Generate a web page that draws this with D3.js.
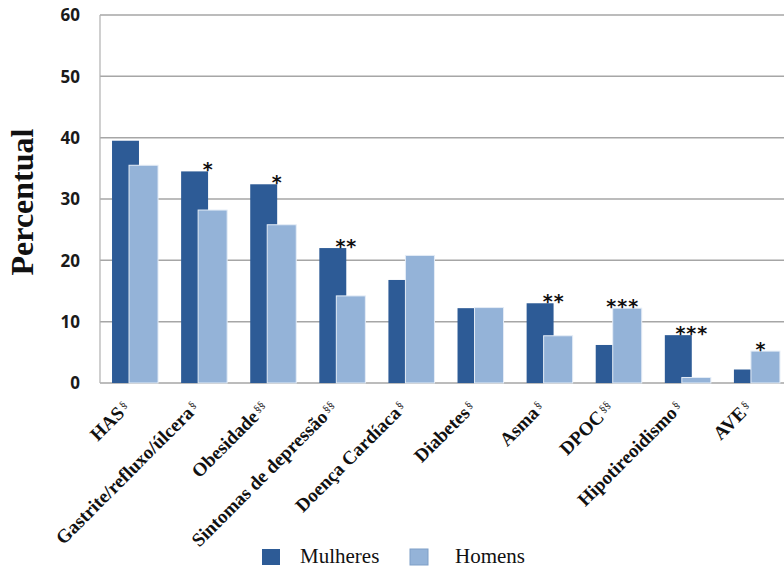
<!DOCTYPE html>
<html>
<head>
<meta charset="utf-8">
<script src="https://cdn.jsdelivr.net/npm/d3@7"></script>
<style>
  html, body { margin: 0; padding: 0; background: #fff; }
  svg { display: block; }
</style>
</head>
<body>
<svg id="chart" width="784" height="567"></svg>
<script>
const categories = ["HAS", "Gastrite/refluxo/úlcera", "Obesidade", "Sintomas de depressão", "Doença Cardíaca", "Diabetes", "Asma", "DPOC", "Hipotireoidismo", "AVE"];
const footMarks = ["§", "§", "§§", "§§", "§", "§", "§", "§§", "§", "§"];
const mulheres = [39.5, 34.5, 32.4, 22.0, 16.8, 12.2, 13.0, 6.2, 7.8, 2.2];
const homens = [35.5, 28.2, 25.8, 14.2, 20.8, 12.3, 7.7, 12.2, 0.9, 5.2];
const significance = ["", "*", "*", "**", "", "", "**", "***", "***", "*"];
const yTicks = [0, 10, 20, 30, 40, 50, 60];
const seriesNames = ["Mulheres", "Homens"];
const colors = ["#2d5b96", "#94b3d8"];

(function () {
const svg = d3.select("#chart");
const pLeft = 100, pRight = 791, pTop = 15, pBottom = 383;

const x = d3.scaleBand().domain(categories).range([pLeft, pRight]).paddingInner(0).paddingOuter(0);
const y = d3.scaleLinear().domain([0, 60]).range([pBottom, pTop]);
const bw = x.bandwidth();

// gridlines
svg.append("g").selectAll("line").data(yTicks).join("line")
  .attr("x1", pLeft).attr("x2", 784)
  .attr("y1", d => y(d)).attr("y2", d => y(d))
  .attr("stroke", "#a6a6a6").attr("stroke-width", 1.5);
svg.append("line").attr("x1", pLeft).attr("x2", pLeft).attr("y1", y(60)).attr("y2", y(0))
  .attr("stroke", "#b0b0b0").attr("stroke-width", 1.2);

// y tick labels
const yAxis = d3.axisLeft(y).tickValues(yTicks).tickSize(0).tickPadding(0);
const gy = svg.append("g").attr("transform", `translate(80,0)`).call(yAxis);
gy.select(".domain").remove();
gy.selectAll("text").attr("font-family", "'Open Sans', 'DejaVu Sans', sans-serif")
  .attr("font-weight", "bold").attr("font-size", 17).attr("fill", "#1a1a1a").attr("dy", "0.35em");

// y label
svg.append("text").attr("transform", "translate(33,202) rotate(-90)")
  .attr("text-anchor", "middle")
  .attr("font-family", "'Liberation Serif', 'DejaVu Serif', serif")
  .attr("font-weight", "bold").attr("font-size", 32).attr("fill", "#111")
  .text("Percentual");

// bars
const groups = svg.append("g").selectAll("g").data(categories).join("g")
  .attr("transform", d => `translate(${x(d)},0)`);
groups.append("rect")
  .attr("x", bw * 0.174).attr("width", bw * 0.39)
  .attr("y", (d, i) => y(mulheres[i])).attr("height", (d, i) => y(0) - y(mulheres[i]))
  .attr("fill", colors[0]);
groups.append("rect")
  .attr("x", bw * 0.42).attr("width", bw * 0.42)
  .attr("y", (d, i) => y(homens[i])).attr("height", (d, i) => y(0) - y(homens[i]))
  .attr("fill", colors[1]).attr("stroke", "#e4ecf6").attr("stroke-width", 1);

// significance stars
groups.append("text")
  .attr("x", bw * 0.565)
  .attr("y", (d, i) => y(Math.max(mulheres[i], homens[i])) + 5)
  .attr("text-anchor", "middle")
  .attr("font-family", "'DejaVu Sans', sans-serif")
  .attr("font-weight", "bold")
  .attr("font-size", 19).attr("letter-spacing", 1).attr("fill", "#111")
  .text((d, i) => significance[i]);

// x labels
const xl = svg.append("g").selectAll("text").data(categories).join("text")
  .attr("transform", d => `translate(${x(d) + bw * 0.33 + 8},409) rotate(-45)`)
  .attr("text-anchor", "end")
  .attr("font-family", "'Liberation Serif', 'DejaVu Serif', serif")
  .attr("font-weight", "bold").attr("font-size", 19).attr("fill", "#111");
xl.append("tspan").text(d => d);
xl.append("tspan").attr("font-size", 11).attr("font-weight", "normal").attr("dy", -5).attr("dx", 2)
  .text((d, i) => footMarks[i]);

// legend
const legendX = [262, 410];
const legendTextX = [300, 455];
const lg = svg.append("g").selectAll("g").data(seriesNames).join("g");
lg.append("rect").attr("x", (d, i) => legendX[i]).attr("y", 549).attr("width", 18).attr("height", 16)
  .attr("fill", (d, i) => colors[i]).attr("stroke", (d, i) => i ? "#7f9fc7" : "none");
lg.append("text").attr("x", (d, i) => legendTextX[i]).attr("y", 563)
  .attr("font-family", "'Liberation Serif', 'DejaVu Serif', serif")
  .attr("font-size", 21).attr("fill", "#111").text(d => d);
})();
</script>
</body>
</html>
